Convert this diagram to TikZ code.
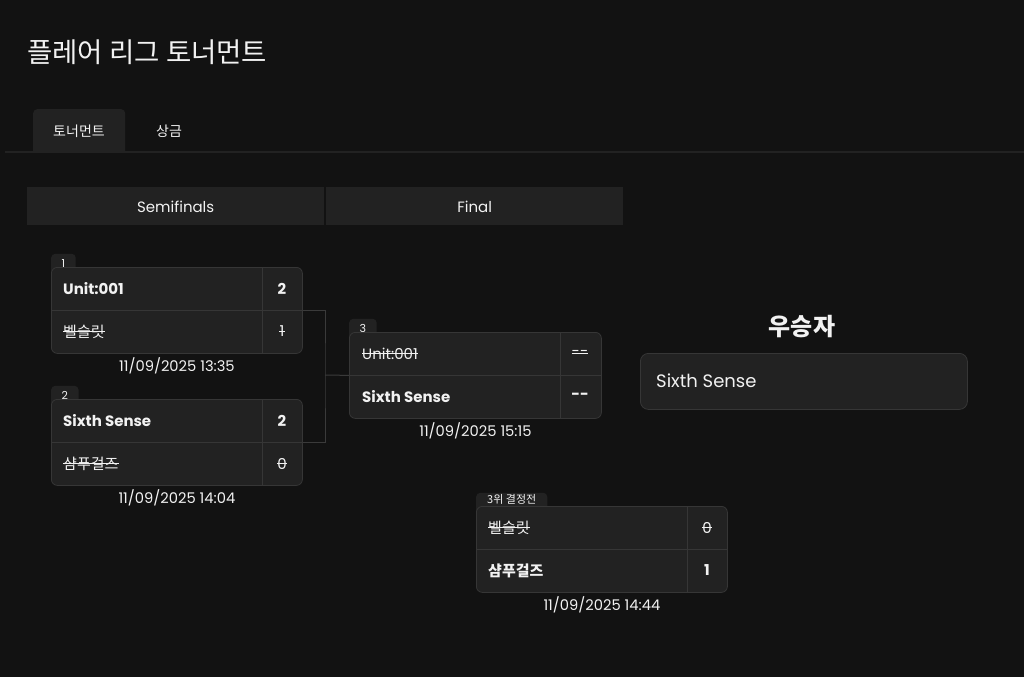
\documentclass[tikz,border=0pt]{standalone}
\usepackage{fontspec}
\setmainfont{Poppins}
\newfontfamily\krfont{Noto Sans CJK KR}
\usepackage{tikz}
\usetikzlibrary{positioning}

\definecolor{pagebg}{HTML}{121212}
\definecolor{cardbg}{HTML}{222222}
\definecolor{cardline}{HTML}{363636}
\definecolor{linkgray}{HTML}{3A3A3A}
\definecolor{textwhite}{HTML}{F2F2F2}

\begin{document}
\begin{tikzpicture}[x=1pt,y=-1pt,
    every node/.style={text=textwhite},
    card/.style={draw=cardline, fill=cardbg, rounded corners=6pt, line width=0.8pt,
      inner sep=0pt, anchor=north west, minimum width=251pt, minimum height=86pt},
    cardtab/.style={fill=cardbg, rounded corners=4pt, inner xsep=10.5pt, inner ysep=0pt,
      minimum height=22pt, text height=14pt, text depth=8pt, font=\fontsize{11}{13}\selectfont, anchor=south west},
    divider/.style={draw=cardline, line width=0.8pt},
    link/.style={draw=linkgray, line width=1pt},
    player/.style={anchor=west, inner sep=0pt, font=\fontsize{15}{18}\selectfont},
    score/.style={inner sep=0pt, font=\fontsize{15}{18}\selectfont},
    struck/.style={append after command={(\tikzlastnode.west) edge[draw=textwhite, line width=0.9pt] (\tikzlastnode.east)}},
    matchdate/.style={inner sep=0pt, font=\fontsize{14.7}{17}\selectfont},
    headbar/.style={fill=cardbg, inner sep=0pt, anchor=north west, minimum width=297pt,
      minimum height=38pt, text height=13pt, text depth=0pt, font=\fontsize{15}{18}\selectfont}
  ]
  % page background
  \useasboundingbox (0,0) rectangle (1024,677);
  \fill[pagebg] (0,0) rectangle (1024,677);

  % title and tabs
  \node[anchor=west, inner sep=0pt, font=\krfont\fontsize{27.5}{32}\selectfont] (title) at (27,52) {플레어 리그 토너먼트};
  \node[fill=cardbg, rounded corners=4pt, anchor=north west, minimum width=92pt, minimum height=46pt] (tabtour) at (33,109) {};
  \node[font=\krfont\fontsize{14}{16}\selectfont] (tabtourtext) at (79,131) {토너먼트};
  \node[font=\krfont\fontsize{14}{16}\selectfont] (tabprize) at (169,131) {상금};
  \fill[pagebg] (5,152) rectangle (1024,160);
  \draw[draw=cardbg, line width=1.2pt] (5,152) -- (1024,152);

  % round headers
  \node[headbar] (semis) at (27,187) {Semifinals};
  \node[headbar] (final) at (326,187) {Final};

  % match 1
  \node[cardtab] (tab1) at (51,276) {1};
  \node[card] (m1) at (51,267) {};
  \draw[divider] (m1.west) -- (m1.east);
  \draw[divider] (262,267) -- (262,353);
  \node[player, font=\bfseries\fontsize{15}{18}\selectfont] (m1a) at (63,288.5) {Unit:001};
  \node[score, font=\bfseries\fontsize{15}{18}\selectfont] (m1as) at (282,288.5) {2};
  \node[player, struck, font=\krfont\fontsize{15}{17}\selectfont] (m1b) at (63,331.5) {벨슬릿};
  \node[score, struck] (m1bs) at (282,331.5) {1};
  \node[matchdate, below=4pt of m1] (d1) {11/09/2025 13:35};

  % match 2
  \node[cardtab] (tab2) at (51,408) {2};
  \node[card] (m2) at (51,399) {};
  \draw[divider] (m2.west) -- (m2.east);
  \draw[divider] (262,399) -- (262,485);
  \node[player, font=\bfseries\fontsize{15}{18}\selectfont] (m2a) at (63,420.5) {Sixth Sense};
  \node[score, font=\bfseries\fontsize{15}{18}\selectfont] (m2as) at (282,420.5) {2};
  \node[player, struck, font=\krfont\fontsize{15}{17}\selectfont] (m2b) at (63,463.5) {샴푸걸즈};
  \node[score, struck] (m2bs) at (282,463.5) {0};
  \node[matchdate, below=4pt of m2] (d2) {11/09/2025 14:04};

  % final
  \node[cardtab] (tab3) at (349,341) {3};
  \node[card, minimum width=252pt] (m3) at (349,332) {};
  \draw[divider] (m3.west) -- (m3.east);
  \draw[divider] (560,332) -- (560,418);
  \node[player, struck] (m3a) at (362,353.5) {Unit:001};
  \node[score, struck] (m3as) at (580,353.5) {{-}{-}};
  \node[player, font=\bfseries\fontsize{15}{18}\selectfont] (m3b) at (362,396.5) {Sixth Sense};
  \node[score, font=\bfseries\fontsize{15}{18}\selectfont] (m3bs) at (580,396.5) {{-}{-}};
  \node[matchdate, below=4pt of m3] (d3) {11/09/2025 15:15};

  % bracket lines
  \coordinate (join) at (325,375);
  \draw[link] (m1.east) -| (join) |- (m2.east);
  \draw[link] (join) -- (m3.west);

  % third place
  \node[cardtab, inner xsep=11pt, text height=11pt, text depth=11pt, font=\krfont\fontsize{11}{13}\selectfont] (tab4) at (476,515) {3위 결정전};
  \node[card] (m4) at (476,506) {};
  \draw[divider] (m4.west) -- (m4.east);
  \draw[divider] (687,506) -- (687,592);
  \node[player, struck, font=\krfont\fontsize{15}{17}\selectfont] (m4a) at (488,527.5) {벨슬릿};
  \node[score, struck] (m4as) at (707,527.5) {0};
  \node[player, font=\krfont\bfseries\fontsize{15}{17}\selectfont] (m4b) at (488,570.5) {샴푸걸즈};
  \node[score, font=\bfseries\fontsize{15}{18}\selectfont] (m4bs) at (707,570.5) {1};
  \node[matchdate, below=4pt of m4] (d4) {11/09/2025 14:44};

  % winner
  \node[font=\krfont\bfseries\fontsize{24}{28}\selectfont] (wintitle) at (802,327) {우승자};
  \node[card, rounded corners=8pt, minimum width=327pt, minimum height=56pt] (winbox) at (640,353) {};
  \node[player, font=\fontsize{18}{22}\selectfont] (winner) at (656,381) {Sixth Sense};
\end{tikzpicture}
\end{document}
